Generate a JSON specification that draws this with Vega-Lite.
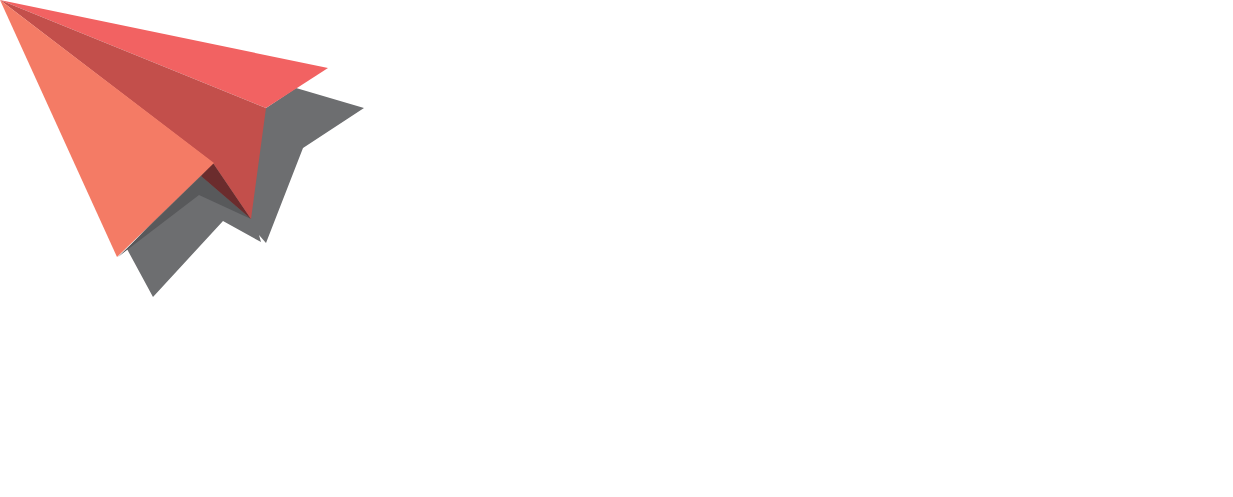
{
  "$schema": "https://vega.github.io/schema/vega-lite/v6.json",
  "width": 1233,
  "height": 497,
  "autosize": {"type": "fit", "contains": "padding"},
  "padding": 0,
  "background": "#ffffff",
  "config": {"view": {"stroke": null}},
  "data": {
    "values": [
      {"part": "shadow", "n": 1, "x": 296, "y": 88},
      {"part": "shadow", "n": 2, "x": 364, "y": 108},
      {"part": "shadow", "n": 3, "x": 303, "y": 148},
      {"part": "shadow", "n": 4, "x": 266, "y": 243},
      {"part": "shadow", "n": 5, "x": 259, "y": 235},
      {"part": "shadow", "n": 6, "x": 261, "y": 242},
      {"part": "shadow", "n": 7, "x": 223, "y": 221},
      {"part": "shadow", "n": 8, "x": 153, "y": 297},
      {"part": "shadow", "n": 9, "x": 127, "y": 249},
      {"part": "shadow", "n": 10, "x": 201, "y": 170},
      {"part": "shadow", "n": 11, "x": 266, "y": 108},
      {"part": "inner", "n": 1, "x": 201, "y": 176},
      {"part": "inner", "n": 2, "x": 251, "y": 219},
      {"part": "inner", "n": 3, "x": 199, "y": 195},
      {"part": "inner", "n": 4, "x": 127, "y": 250},
      {"part": "inner", "n": 5, "x": 118, "y": 257},
      {"part": "fold", "n": 1, "x": 213, "y": 163},
      {"part": "fold", "n": 2, "x": 251, "y": 219},
      {"part": "fold", "n": 3, "x": 201, "y": 176},
      {"part": "wing", "n": 1, "x": 0, "y": 0},
      {"part": "wing", "n": 2, "x": 328, "y": 68},
      {"part": "wing", "n": 3, "x": 266, "y": 108},
      {"part": "keel", "n": 1, "x": 0, "y": 0},
      {"part": "keel", "n": 2, "x": 266, "y": 108},
      {"part": "keel", "n": 3, "x": 251, "y": 219},
      {"part": "keel", "n": 4, "x": 213, "y": 163},
      {"part": "front", "n": 1, "x": 0, "y": 0},
      {"part": "front", "n": 2, "x": 214, "y": 163},
      {"part": "front", "n": 3, "x": 117, "y": 257}
    ]
  },
  "mark": {"type": "line", "filled": true, "interpolate": "linear-closed"},
  "encoding": {
    "x": {"field": "x", "type": "quantitative", "scale": {"domain": [0, 1233]}, "axis": null},
    "y": {"field": "y", "type": "quantitative", "scale": {"domain": [497, 0]}, "axis": null},
    "order": {"field": "n", "type": "ordinal"},
    "color": {
      "field": "part",
      "type": "nominal",
      "legend": null,
      "scale": {
        "domain": ["shadow", "inner", "fold", "wing", "keel", "front"],
        "range": ["#6d6e70", "#58595b", "#6b2c2d", "#f26262", "#c34f4b", "#f47b65"]
      }
    }
  }
}
